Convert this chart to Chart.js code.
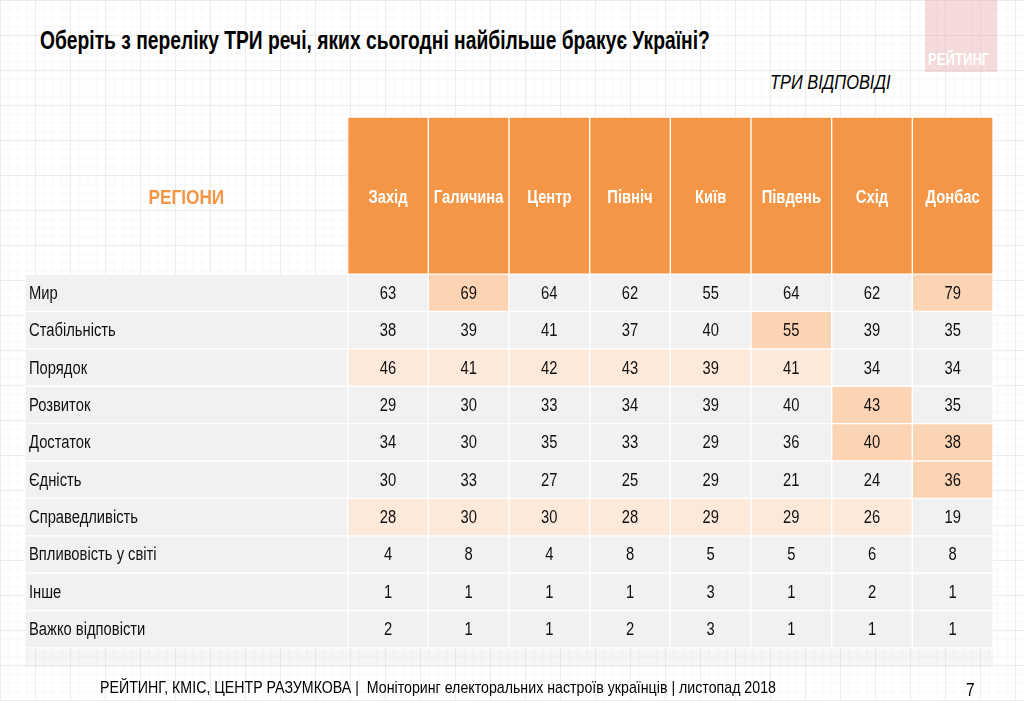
<!DOCTYPE html>
<html>
<head>
<meta charset="utf-8">
<script src="https://cdn.jsdelivr.net/npm/chart.js@4.4.0/dist/chart.umd.min.js"></script>
<style>
html,body{margin:0;padding:0}
body{width:1024px;height:701px;position:relative;overflow:hidden;background-color:#fff;
background-image:
linear-gradient(#ececec 1px,transparent 1px),
linear-gradient(90deg,#ececec 1px,transparent 1px),
linear-gradient(#f7f7f7 1px,transparent 1px),
linear-gradient(90deg,#f7f7f7 1px,transparent 1px);
background-size:35px 35px,35px 35px,8.75px 8.75px,8.75px 8.75px;
font-family:"Liberation Sans",Arial,sans-serif}
.nar{position:absolute;white-space:nowrap;transform:scaleX(0.82);transform-origin:0 0}
#title{left:40px;top:26px;font-weight:bold;font-size:25px;color:#000;transform:scaleX(0.77)}
#sub{left:770px;top:71px;font-style:italic;font-size:20px;color:#000}
#logo{position:absolute;left:925px;top:0;width:72px;height:72px;background:rgba(230,170,170,0.42)}
#logot{left:928px;top:51px;color:#fff;font-weight:bold;font-size:16px}
#band{position:absolute;left:25px;top:649px;width:968px;height:18px;background:rgba(220,220,220,0.25)}
#foot{left:100px;top:678px;font-size:17px;color:#000;transform:scaleX(0.835)}
#page{left:966px;top:679px;font-size:19px;color:#000}
canvas{position:absolute;left:0;top:0}
</style>
</head>
<body>
<div id="logo"></div>
<div id="logot" class="nar">РЕЙТИНГ</div>
<div id="title" class="nar">Оберіть з переліку ТРИ речі, яких сьогодні найбільше бракує Україні?</div>
<div id="sub" class="nar">ТРИ ВІДПОВІДІ</div>
<div id="band"></div>
<canvas id="chart" width="1024" height="701"></canvas>
<div id="foot" class="nar">РЕЙТИНГ, КМІС, ЦЕНТР РАЗУМКОВА |&nbsp; Моніторинг електоральних настроїв українців | листопад 2018</div>
<div id="page" class="nar">7</div>
<script>
const headLabel='РЕГІОНИ'
const regions=['Захід','Галичина','Центр','Північ','Київ','Південь','Схід','Донбас']
const items=['Мир','Стабільність','Порядок','Розвиток','Достаток','Єдність','Справедливість','Впливовість у світі','Інше','Важко відповісти']

const zakhid=[63,38,46,29,34,30,28,4,1,2]
const halychyna=[69,39,41,30,30,33,30,8,1,1]
const tsentr=[64,41,42,33,35,27,30,4,1,1]
const pivnich=[62,37,43,34,33,25,28,8,1,2]
const kyiv=[55,40,39,39,29,29,29,5,3,3]
const pivden=[64,55,41,40,36,21,29,5,1,1]
const skhid=[62,39,34,43,40,24,26,6,2,1]
const donbas=[79,35,34,35,38,36,19,8,1,1]
const values=[zakhid,halychyna,tsentr,pivnich,kyiv,pivden,skhid,donbas]

// highlighted cells [row, column]
const strong=[[0,1],[0,7],[1,5],[3,6],[4,6],[4,7],[5,7]]
const light=[[2,0],[2,1],[2,2],[2,3],[2,4],[2,5],[6,0],[6,1],[6,2],[6,3],[6,4],[6,5],[6,6]]

const ORANGE='#f59646',STRONG='#fcd3b3',LIGHT='#fde9da',GRAY='#f1f1f1'
const FONT='"Liberation Sans",Arial,sans-serif'
const NARROW=0.82
const LABW=4 // label column = 4 region columns wide

function cellColor(r,c){
if(strong.some(p=>p[0]==r&&p[1]==c))return STRONG
if(light.some(p=>p[0]==r&&p[1]==c))return LIGHT
return GRAY
}

const datasets=[]
datasets.push({yAxisID:'yh',data:[[0,LABW]],backgroundColor:'rgba(0,0,0,0)',borderWidth:0,_kind:'headLabel'})
regions.forEach((r,c)=>{
datasets.push({yAxisID:'yh',data:[[LABW+c,LABW+c+1]],backgroundColor:ORANGE,borderColor:'#fff',borderWidth:1,_kind:'head',_text:[r]})
})
datasets.push({yAxisID:'y',data:items.map(()=>[0,LABW]),backgroundColor:GRAY,borderColor:'#fff',borderWidth:1,_kind:'label',_text:items})
regions.forEach((r,c)=>{
datasets.push({yAxisID:'y',data:items.map(()=>[LABW+c,LABW+c+1]),
backgroundColor:items.map((it,i)=>cellColor(i,c)),borderColor:'#fff',borderWidth:1,_kind:'num',_text:values[c].map(String)})
})

function narrowText(ctx,txt,x,y,align){
const w=ctx.measureText(txt).width*NARROW
let x0=x
if(align=='center')x0=x-w/2
ctx.save()
ctx.translate(x0,y)
ctx.scale(NARROW,1)
ctx.textAlign='left'
ctx.fillText(txt,0,0)
ctx.restore()
}

const textPlugin={
id:'cellText',
afterDatasetsDraw(chart){
const ctx=chart.ctx
ctx.save()
ctx.textBaseline='middle'
chart.data.datasets.forEach((ds,di)=>{
const meta=chart.getDatasetMeta(di)
meta.data.forEach((el,i)=>{
const p=el.getProps(['x','y','base'],true)
const left=Math.min(p.x,p.base),right=Math.max(p.x,p.base)
const cx=(left+right)/2
if(ds._kind=='headLabel'){
ctx.fillStyle=ORANGE;ctx.font='bold 21px '+FONT
narrowText(ctx,headLabel,cx,p.y+3,'center')
}else if(ds._kind=='head'){
ctx.fillStyle='#fff';ctx.font='bold 18px '+FONT
narrowText(ctx,ds._text[i],cx,p.y+3,'center')
}else if(ds._kind=='label'){
ctx.fillStyle='#111';ctx.font='18px '+FONT
narrowText(ctx,ds._text[i],left+4,p.y+1,'left')
}else{
ctx.fillStyle='#111';ctx.font='18px '+FONT
narrowText(ctx,ds._text[i],cx,p.y+1,'center')
}
})
})
ctx.restore()
}
}

new Chart(document.getElementById('chart'),{
type:'bar',
data:{labels:items,datasets:datasets},
options:{
responsive:false,animation:false,indexAxis:'y',
layout:{padding:{left:25,right:31,top:117,bottom:53}},
datasets:{bar:{grouped:false,barPercentage:1,categoryPercentage:1,borderSkipped:false}},
plugins:{legend:{display:false},tooltip:{enabled:false}},
scales:{
x:{type:'linear',min:0,max:LABW+regions.length,display:false},
y:{type:'category',labels:items,stack:'tbl',stackWeight:10,offset:true,display:false},
yh:{type:'category',labels:[headLabel],stack:'tbl',stackWeight:4.2,offset:true,display:false}
}
},
plugins:[textPlugin]
})
</script>
</body>
</html>
